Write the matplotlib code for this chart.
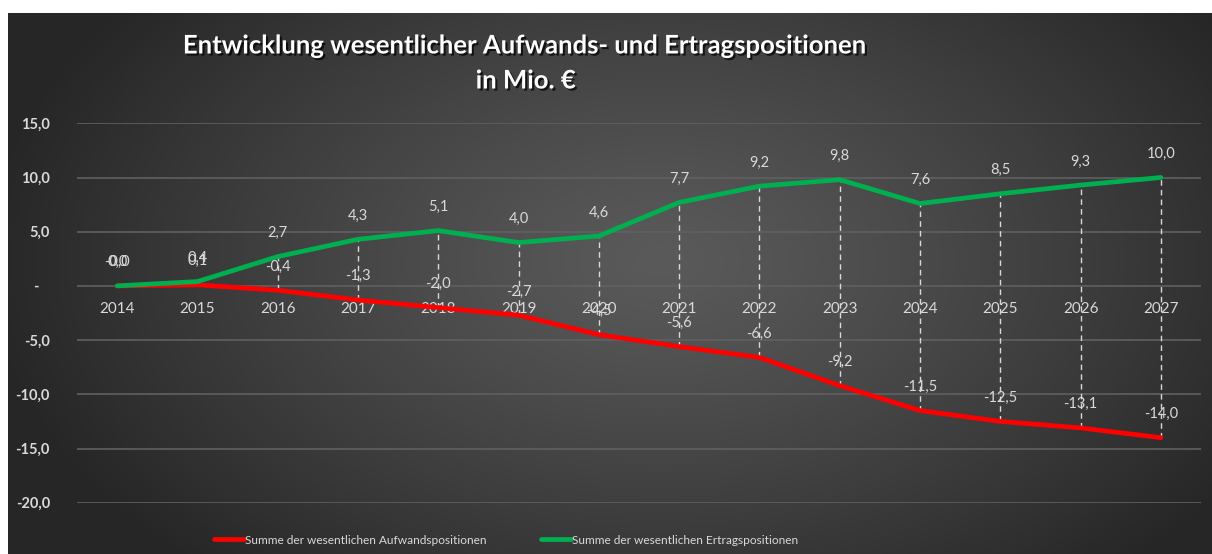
import numpy as np
import matplotlib
matplotlib.use("Agg")
import matplotlib.pyplot as plt
import matplotlib.patheffects as pe

years = ["2014", "2015", "2016", "2017", "2018", "2019", "2020",
         "2021", "2022", "2023", "2024", "2025", "2026", "2027"]
aufwand = [-0.0, 0.1, -0.4, -1.3, -2.0, -2.7, -4.5,
           -5.6, -6.6, -9.2, -11.5, -12.5, -13.1, -14.0]
ertrag = [0.0, 0.4, 2.7, 4.3, 5.1, 4.0, 4.6,
          7.7, 9.2, 9.8, 7.6, 8.5, 9.3, 10.0]
y_ticks = [15, 10, 5, 0, -5, -10, -15, -20]
title = "Entwicklung wesentlicher Aufwands- und Ertragspositionen\nin Mio. €"
label_aufwand = "Summe der wesentlichen Aufwandspositionen"
label_ertrag = "Summe der wesentlichen Ertragspositionen"

FONT = ["Lato", "DejaVu Sans"]
plt.rcParams['font.family'] = FONT
TXT = "#d9d9d9"
RED = "#ff0000"
GREEN = "#00b050"

W, H = 1212, 554
fig = plt.figure(figsize=(W / 100, H / 100), dpi=100, facecolor="white")

# background gradient (chart area)
bx0, by0 = 8, 13
bg = fig.add_axes([bx0 / W, 0, 1 - bx0 / W, 1 - by0 / H])
bg.set_axis_off()
gw, gh = W - bx0, H - by0
xx, yy = np.meshgrid(np.arange(gw) + bx0, np.arange(gh) + by0)
cx, cy, rx, ry = 660, 260, 680, 420
d = np.sqrt(((xx - cx) / rx) ** 2 + ((yy - cy) / ry) ** 2)
d = np.clip(d, 0, 1) ** 1.2
c_center, c_edge = 0x5a / 255, 0x26 / 255
val = c_center + (c_edge - c_center) * d
img = np.dstack([val, val, val])
bg.imshow(img, aspect="auto", extent=[0, 1, 0, 1], origin="upper")
bg.set_xlim(0, 1)
bg.set_ylim(0, 1)

# main axes
left, right = 77, 1201
top, bottom = 123.3, 502.7
ax = fig.add_axes([left / W, 1 - bottom / H, (right - left) / W, (bottom - top) / H])
ax.patch.set_alpha(0)
x = np.arange(len(years))
ax.set_xlim(-0.5, len(years) - 0.5)
ax.set_ylim(-20, 15)

for s in ["top", "right", "left"]:
    ax.spines[s].set_visible(False)
ax.spines["bottom"].set_position(("data", 0))
ax.spines["bottom"].set_visible(False)

ax.set_yticks(y_ticks)
ax.set_yticklabels([("-   " if v == 0 else f"{v:.1f}".replace(".", ",")) for v in y_ticks],
                   color=TXT, fontsize=10.5, fontweight="bold")
ax.tick_params(axis="y", length=0, pad=19.5)
ax.set_xticks(x)
ax.set_xticklabels(years, color=TXT, fontsize=11)
ax.tick_params(axis="x", length=0, pad=11.5)
ax.grid(axis="y", color="#606060", linewidth=1.2)
ax.set_axisbelow(True)

# high-low lines
ax.vlines(x, np.minimum(aufwand, ertrag), np.maximum(aufwand, ertrag),
          colors=TXT, linestyles=(0, (4, 3)), linewidth=1.0, zorder=2)

ax.plot(x, aufwand, color=RED, linewidth=3.4, solid_capstyle="round",
        solid_joinstyle="round", zorder=3, label=label_aufwand)
ax.plot(x, ertrag, color=GREEN, linewidth=3.4, solid_capstyle="round",
        solid_joinstyle="round", zorder=3, label=label_ertrag)

def fmt(v):
    return f"{v:.1f}".replace(".", ",")

for xi, v in zip(x, ertrag):
    ax.annotate(fmt(v), (xi, v), xytext=(0, 17), textcoords="offset points",
                ha="center", va="center", color=TXT, fontsize=10.5, zorder=5)
for xi, v in zip(x, aufwand):
    ax.annotate(fmt(v), (xi, v), xytext=(0, 17), textcoords="offset points",
                ha="center", va="center", color=TXT, fontsize=10.5, zorder=5)

# title
fig.text(526 / W, 1 - 63 / H, title, ha="center", va="center", color="white",
         fontsize=18.5, fontweight="bold", linespacing=1.55,
         path_effects=[pe.withSimplePatchShadow(offset=(1.5, -1.5),
                                                shadow_rgbFace="black", alpha=0.7)])

# legend
leg = fig.legend(loc="center", bbox_to_anchor=(506 / W, 1 - 540 / H), ncol=2,
                 frameon=False, fontsize=8.6, handlelength=2.5, handletextpad=0.05,
                 columnspacing=4.6, labelcolor=TXT)
for line in leg.get_lines():
    line.set_linewidth(3.4)

fig.savefig("out.png", dpi=100, facecolor="white")
